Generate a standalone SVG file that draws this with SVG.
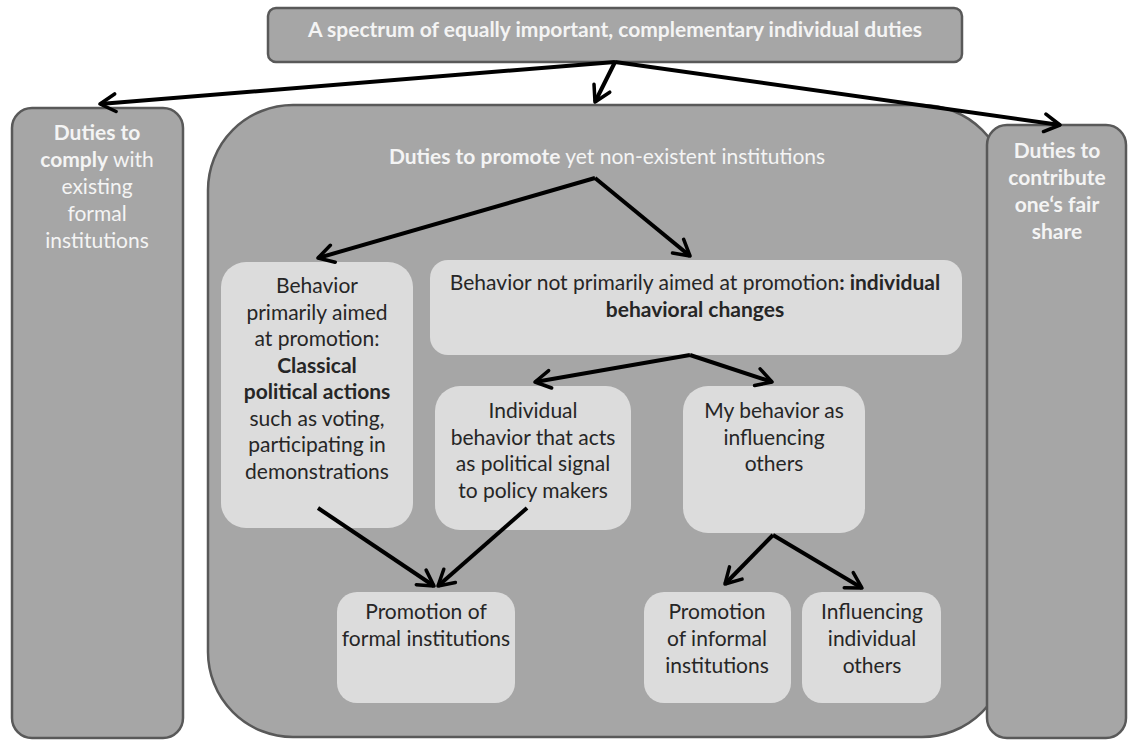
<svg xmlns="http://www.w3.org/2000/svg" width="1134" height="740" viewBox="0 0 1134 740">
<defs>
<marker id="ah" viewBox="0 0 20 20" refX="17" refY="10" markerWidth="5.5" markerHeight="5.5" markerUnits="strokeWidth" orient="auto">
<path d="M3,2 L17,10 L3,18" fill="none" stroke="#000" stroke-width="3.2" stroke-linecap="round" stroke-linejoin="round"/>
</marker>
<style>
.dark{fill:#a6a6a6;stroke:#595959;stroke-width:2.5}
.light{fill:#dcdcdc}
.wt{font-family:Lato,"Open Sans",sans-serif;font-size:21px;fill:#f4f4f4;text-anchor:middle}
.bt{font-family:Lato,"Open Sans",sans-serif;font-size:21px;fill:#262626;text-anchor:middle}
.b{font-weight:bold}
.conn line{stroke:#000;stroke-width:4;marker-end:url(#ah)}
</style>
</defs>
<rect width="1134" height="740" fill="#fff"/>

<g id="top">
<rect class="dark" x="268" y="8" width="694" height="54" rx="8"/>
<text class="wt b" x="615" y="37" font-size="20">A spectrum of equally important, complementary individual duties</text>
</g>

<g id="comply">
<rect class="dark" x="12" y="108" width="171" height="630" rx="20"/>
<text class="wt"><tspan x="97" y="140" class="b">Duties to</tspan><tspan x="97" y="167"><tspan class="b">comply</tspan> with</tspan><tspan x="97" y="194">existing</tspan><tspan x="97" y="221">formal</tspan><tspan x="97" y="248">institutions</tspan></text>
</g>

<g id="promote">
<rect class="dark" x="208" y="105" width="799" height="632" rx="85"/>
<text class="wt" x="607" y="164" font-size="21.5"><tspan class="b">Duties to promote</tspan> yet non-existent institutions</text>
</g>

<g id="contribute">
<rect class="dark" x="987" y="125" width="139" height="613" rx="20"/>
<text class="wt b"><tspan x="1057" y="158">Duties to</tspan><tspan x="1057" y="185">contribute</tspan><tspan x="1057" y="212">one‘s fair</tspan><tspan x="1057" y="239">share</tspan></text>
</g>

<g id="classical">
<rect class="light" x="221" y="262" width="192" height="266" rx="25"/>
<text class="bt"><tspan x="317" y="293">Behavior</tspan><tspan x="317" y="320">primarily aimed</tspan><tspan x="317" y="346">at promotion:</tspan><tspan x="317" y="373" class="b">Classical</tspan><tspan x="317" y="399" class="b">political actions</tspan><tspan x="317" y="426">such as voting,</tspan><tspan x="317" y="452">participating in</tspan><tspan x="317" y="479">demonstrations</tspan></text>
</g>

<g id="behavioral">
<rect class="light" x="430" y="260" width="532" height="95" rx="18"/>
<text class="bt"><tspan x="695" y="290">Behavior not primarily aimed at promotion<tspan class="b">: individual</tspan></tspan><tspan x="695" y="317" class="b">behavioral changes</tspan></text>
</g>

<g id="signal">
<rect class="light" x="435" y="386" width="196" height="144" rx="25"/>
<text class="bt"><tspan x="533" y="418">Individual</tspan><tspan x="533" y="445">behavior that acts</tspan><tspan x="533" y="471">as political  signal</tspan><tspan x="533" y="498">to policy makers</tspan></text>
</g>

<g id="influencing">
<rect class="light" x="683" y="386" width="182" height="147" rx="25"/>
<text class="bt"><tspan x="774" y="418">My behavior as</tspan><tspan x="774" y="445">influencing</tspan><tspan x="774" y="471">others</tspan></text>
</g>

<g id="formal">
<rect class="light" x="337" y="592" width="178" height="111" rx="20"/>
<text class="bt"><tspan x="426" y="619">Promotion of</tspan><tspan x="426" y="646">formal institutions</tspan></text>
</g>

<g id="informal">
<rect class="light" x="644" y="592" width="147" height="111" rx="20"/>
<text class="bt"><tspan x="717" y="619">Promotion</tspan><tspan x="717" y="646">of informal</tspan><tspan x="717" y="673">institutions</tspan></text>
</g>

<g id="individual">
<rect class="light" x="802" y="592" width="139" height="111" rx="20"/>
<text class="bt"><tspan x="872" y="619">Influencing</tspan><tspan x="872" y="646">individual</tspan><tspan x="872" y="673">others</tspan></text>
</g>

<g class="conn" id="connectors">
<line x1="615" y1="62" x2="100" y2="104"/>
<line x1="615" y1="62" x2="595" y2="102"/>
<line x1="615" y1="62" x2="1060" y2="125"/>
<line x1="595" y1="178" x2="318" y2="258"/>
<line x1="595" y1="178" x2="690" y2="256"/>
<line x1="690" y1="355" x2="535" y2="382"/>
<line x1="690" y1="355" x2="772" y2="382"/>
<line x1="318" y1="508" x2="434" y2="586"/>
<line x1="527" y1="508" x2="438" y2="586"/>
<line x1="773" y1="535" x2="725" y2="584"/>
<line x1="773" y1="535" x2="862" y2="588"/>
</g>
</svg>
